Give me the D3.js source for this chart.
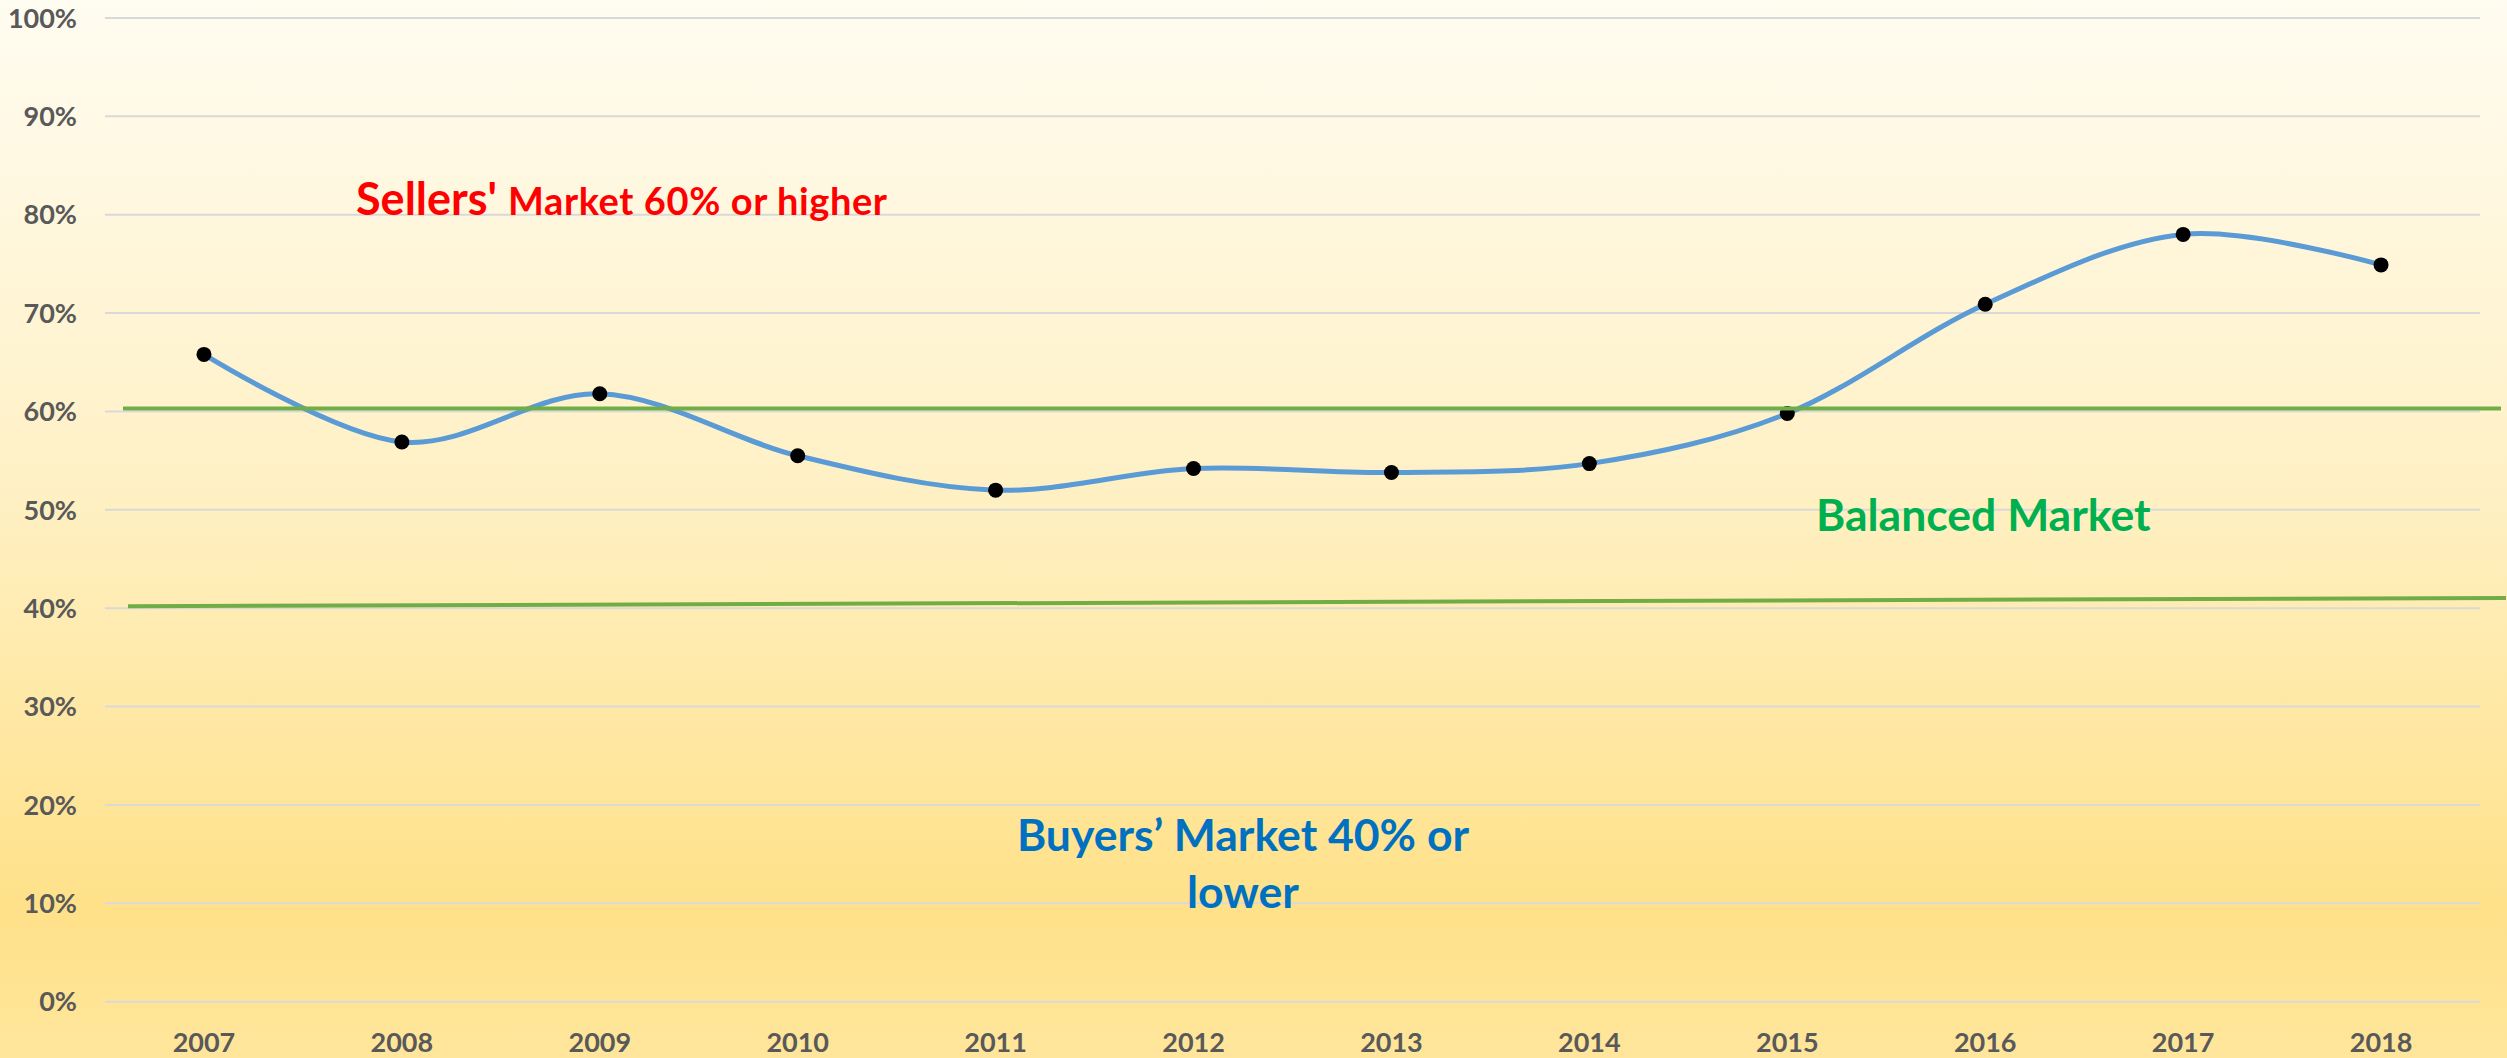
<!DOCTYPE html>
<html>
<head>
<meta charset="utf-8">
<script src="https://cdn.jsdelivr.net/npm/d3@7"></script>
<style>
  html, body { margin: 0; padding: 0; overflow: hidden; }
  svg { display: block; }
  text { font-family: Lato, "Open Sans", sans-serif; font-weight: 700; }
</style>
</head>
<body>
<svg id="chart"></svg>
<script>
const years = ["2007", "2008", "2009", "2010", "2011", "2012", "2013", "2014", "2015", "2016", "2017", "2018"];
const shareValues = [65.8, 56.9, 61.8, 55.5, 52.0, 54.2, 53.8, 54.7, 59.8, 70.9, 78.0, 74.9];
const yTicks = [0, 10, 20, 30, 40, 50, 60, 70, 80, 90, 100];
// hand drawn threshold lines, level at left end and right end
const sellersLine = [60.3, 60.3];
const buyersLine = [40.2, 41.05];

const W = 2507, H = 1058;
const margin = { top: 18, right: 27, bottom: 56, left: 105 };

const svg = d3.select("#chart").attr("width", W).attr("height", H);

const defs = svg.append("defs");
const grad = defs.append("linearGradient")
  .attr("id", "bg").attr("x1", 0).attr("y1", 0).attr("x2", 0).attr("y2", 1);
[["0%", "#fffcf1"], ["45%", "#fff1c6"], ["86%", "#ffe189"], ["100%", "#ffe69c"]]
  .forEach(([o, c]) => grad.append("stop").attr("offset", o).attr("stop-color", c));

svg.append("rect").attr("width", W).attr("height", H).attr("fill", "url(#bg)");

const x = d3.scaleBand().domain(years).range([margin.left, W - margin.right]);
const y = d3.scaleLinear().domain([0, 100]).range([H - margin.bottom - 0.3, margin.top]);

// gridlines
svg.append("g")
  .selectAll("line")
  .data(yTicks)
  .join("line")
  .attr("x1", margin.left)
  .attr("x2", W - margin.right)
  .attr("y1", d => y(d))
  .attr("y2", d => y(d))
  .attr("stroke", "#d9d9d9")
  .attr("stroke-width", 2);

// y labels
svg.append("g")
  .selectAll("text")
  .data(yTicks)
  .join("text")
  .attr("x", 77)
  .attr("y", d => y(d))
  .attr("dy", "0.36em")
  .attr("text-anchor", "end")
  .attr("fill", "#595959")
  .attr("font-size", 27)
  .text(d => d + "%");

// x labels
svg.append("g")
  .selectAll("text")
  .data(years)
  .join("text")
  .attr("x", d => x(d) + x.bandwidth() / 2)
  .attr("y", 1052)
  .attr("text-anchor", "middle")
  .attr("fill", "#595959")
  .attr("font-size", 27)
  .text(d => d);

const pts = years.map((yr, i) => [x(yr) + x.bandwidth() / 2, y(shareValues[i])]);

const line = d3.line().curve(d3.curveCatmullRom.alpha(0));
svg.append("path")
  .attr("d", line(pts))
  .attr("fill", "none")
  .attr("stroke", "#5b9bd5")
  .attr("stroke-width", 5)
  .attr("stroke-linecap", "round");

svg.append("g")
  .selectAll("circle")
  .data(pts)
  .join("circle")
  .attr("cx", d => d[0])
  .attr("cy", d => d[1])
  .attr("r", 7.5)
  .attr("fill", "#000");

// threshold lines on top
const thresh = [
  { v: sellersLine, x0: margin.left + 18, x1: W - 6 },
  { v: buyersLine, x0: margin.left + 23, x1: W - 1 }
];
svg.append("g")
  .selectAll("line")
  .data(thresh)
  .join("line")
  .attr("x1", d => d.x0)
  .attr("x2", d => d.x1)
  .attr("y1", d => y(d.v[0]))
  .attr("y2", d => y(d.v[1]))
  .attr("stroke", "#70ad47")
  .attr("stroke-width", 4);

// annotations
const sell = svg.append("text")
  .attr("x", 356).attr("y", 215)
  .attr("fill", "#ff0000");
sell.append("tspan").attr("font-size", 45).text("Sellers' ");
sell.append("tspan").attr("font-size", 38).attr("letter-spacing", 0.6).text("Market 60% or higher");

svg.append("text")
  .attr("x", 1816).attr("y", 531)
  .attr("fill", "#00b050")
  .attr("font-size", 44.5)
  .text("Balanced Market");

const buy = svg.append("text")
  .attr("fill", "#0070c0")
  .attr("font-size", 44.5)
  .attr("text-anchor", "middle");
buy.append("tspan").attr("x", 1243).attr("y", 851).text("Buyers\u2019 Market 40% or");
buy.append("tspan").attr("x", 1243).attr("y", 908).text("lower");
</script>
</body>
</html>
